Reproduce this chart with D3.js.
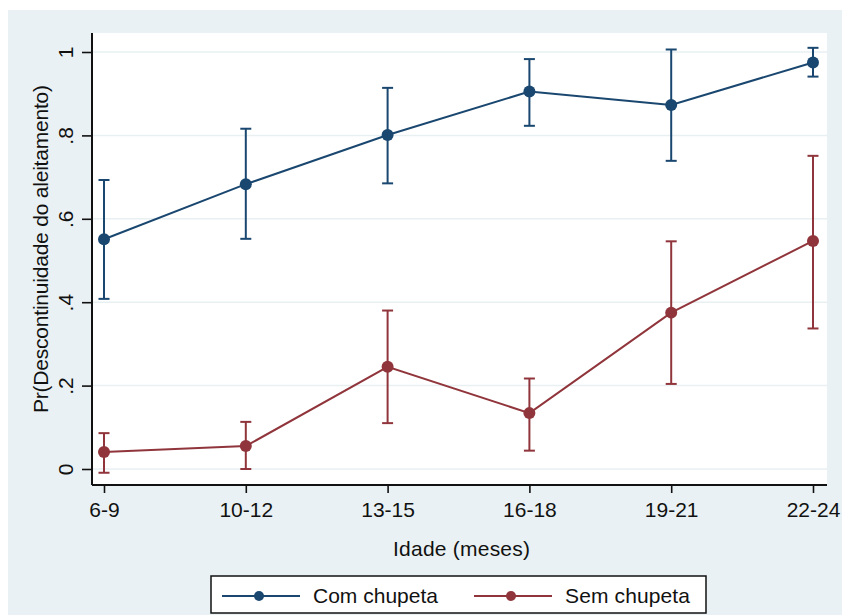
<!DOCTYPE html>
<html>
<head>
<meta charset="utf-8">
<script src="https://cdn.jsdelivr.net/npm/d3@7"></script>
<style>
  body { margin: 0; background: #ffffff; }
  svg text { font-family: "Liberation Sans", Arial, sans-serif; fill: #111; }
</style>
</head>
<body>
<div id="svg"></div>
<script>
var width = 842;
var height = 615;

// data
var categories = ['6-9', '10-12', '13-15', '16-18', '19-21', '22-24'];
var com_mean = [0.551, 0.683, 0.801, 0.905, 0.873, 0.975];
var com_lo   = [0.408, 0.552, 0.685, 0.823, 0.739, 0.941];
var com_hi   = [0.693, 0.816, 0.914, 0.983, 1.006, 1.010];
var sem_mean = [0.041, 0.055, 0.245, 0.134, 0.375, 0.547];
var sem_lo   = [-0.009, 0.000, 0.110, 0.044, 0.204, 0.337];
var sem_hi   = [0.086, 0.113, 0.380, 0.217, 0.546, 0.751];
var y_ticks = [0, 0.2, 0.4, 0.6, 0.8, 1];
var series_names = ['Com chupeta', 'Sem chupeta'];
var series_colors = ['#1a476f', '#90353b'];

var plot = { left: 92, right: 827, top: 33, bottom: 485 };
var font_size = '21px';

var canvas = d3.select('#svg')
	.append('svg')
	.attr('width', width)
	.attr('height', height);

function main()
{
	draw_background();
	var x = d3.scalePoint()
		.domain(categories)
		.range([plot.left + 12, plot.right - 14]);
	var y = d3.scaleLinear()
		.domain([0, 1])
		.range([plot.bottom - 16, plot.top + 19]);

	draw_grid(y);
	draw_series(x, y, com_mean, com_lo, com_hi, series_colors[0]);
	draw_series(x, y, sem_mean, sem_lo, sem_hi, series_colors[1]);
	draw_axes(x, y);
	draw_legend();
}

function draw_background()
{
	canvas.append('rect')
		.attr('x', 8).attr('y', 10)
		.attr('width', width - 8).attr('height', height - 10)
		.attr('fill', '#eaf1f4');
	canvas.append('rect')
		.attr('x', plot.left).attr('y', plot.top)
		.attr('width', plot.right - plot.left).attr('height', plot.bottom - plot.top)
		.attr('fill', '#ffffff');
}

function draw_grid(y)
{
	canvas.append('g')
		.selectAll('line')
		.data(y_ticks)
		.enter().append('line')
			.attr('x1', plot.left).attr('x2', plot.right)
			.attr('y1', (d) => y(d)).attr('y2', (d) => y(d))
			.attr('stroke', '#e8f0f2')
			.attr('stroke-width', 1.5);
}

function draw_series(x, y, mean, lo, hi, color)
{
	var rows = categories.map((c, i) => ({ c: c, m: mean[i], lo: lo[i], hi: hi[i] }));
	var g = canvas.append('g');
	var cap = 5.5;

	// error bars
	var bars = g.selectAll('.bar').data(rows).enter().append('g').attr('class', 'bar');
	bars.append('line')
		.attr('x1', (d) => x(d.c)).attr('x2', (d) => x(d.c))
		.attr('y1', (d) => y(d.lo)).attr('y2', (d) => y(d.hi))
		.attr('stroke', color).attr('stroke-width', 2);
	bars.append('line')
		.attr('x1', (d) => x(d.c) - cap).attr('x2', (d) => x(d.c) + cap)
		.attr('y1', (d) => y(d.lo)).attr('y2', (d) => y(d.lo))
		.attr('stroke', color).attr('stroke-width', 2);
	bars.append('line')
		.attr('x1', (d) => x(d.c) - cap).attr('x2', (d) => x(d.c) + cap)
		.attr('y1', (d) => y(d.hi)).attr('y2', (d) => y(d.hi))
		.attr('stroke', color).attr('stroke-width', 2);

	// connecting line
	var line = d3.line()
		.x((d) => x(d.c))
		.y((d) => y(d.m));
	g.append('path')
		.datum(rows)
		.attr('d', line)
		.attr('fill', 'none')
		.attr('stroke', color)
		.attr('stroke-width', 2);

	g.selectAll('circle').data(rows).enter().append('circle')
		.attr('cx', (d) => x(d.c))
		.attr('cy', (d) => y(d.m))
		.attr('r', 6)
		.attr('fill', color);
}

function draw_axes(x, y)
{
	var x_axis = d3.axisBottom(x).tickSize(8).tickPadding(9);
	var gx = canvas.append('g')
		.attr('transform', 'translate(0,' + plot.bottom + ')')
		.call(x_axis);
	gx.select('.domain')
		.attr('d', 'M' + plot.left + ',0H' + plot.right)
		.attr('stroke', '#111').attr('stroke-width', 2);
	gx.selectAll('.tick line').attr('stroke', '#111').attr('stroke-width', 1.6);
	gx.selectAll('.tick text')
		.style('font-size', font_size)
		.style('font-family', '"Liberation Sans", Arial, sans-serif')
		.attr('fill', '#111');

	var y_axis = d3.axisLeft(y)
		.tickValues(y_ticks)
		.tickSize(10)
		.tickFormat((d) => (d === 0 || d === 1) ? String(d) : d3.format('.1f')(d).replace(/^0/, ''));
	var gy = canvas.append('g')
		.attr('transform', 'translate(' + plot.left + ',0)')
		.call(y_axis);
	gy.select('.domain')
		.attr('d', 'M0,' + plot.top + 'V' + plot.bottom)
		.attr('stroke', '#111').attr('stroke-width', 2);
	gy.selectAll('.tick line').attr('stroke', '#111').attr('stroke-width', 1.6);
	gy.selectAll('.tick text')
		.attr('x', null).attr('dy', null)
		.attr('transform', 'translate(-19,0) rotate(-90)')
		.attr('text-anchor', 'middle')
		.attr('y', 0)
		.style('font-size', font_size)
		.style('font-family', '"Liberation Sans", Arial, sans-serif')
		.attr('fill', '#111');

	canvas.append('text')
		.attr('x', (plot.left + plot.right) / 2 + 2)
		.attr('y', 556)
		.attr('text-anchor', 'middle')
		.style('font-size', font_size)
		.attr('textLength', 137)
		.attr('lengthAdjust', 'spacing')
		.text('Idade (meses)');

	canvas.append('text')
		.attr('transform', 'translate(48,249) rotate(-90)')
		.attr('text-anchor', 'middle')
		.style('font-size', font_size)
		.attr('textLength', 328)
		.attr('lengthAdjust', 'spacing')
		.text('Pr(Descontinuidade do aleitamento)');
}

function draw_legend()
{
	var g = canvas.append('g');
	g.append('rect')
		.attr('x', 211).attr('y', 576)
		.attr('width', 495).attr('height', 37)
		.attr('fill', '#ffffff')
		.attr('stroke', '#111')
		.attr('stroke-width', 1.5);

	var items = g.selectAll('.item')
		.data(series_names)
		.enter().append('g')
			.attr('class', 'item')
			.attr('transform', (d, i) => 'translate(' + (222 + i * 252) + ',596)');
	items.append('line')
		.attr('x1', 0).attr('x2', 78)
		.attr('y1', 0).attr('y2', 0)
		.attr('stroke', (d, i) => series_colors[i])
		.attr('stroke-width', 2);
	items.append('circle')
		.attr('cx', 37).attr('cy', 0).attr('r', 5)
		.attr('fill', (d, i) => series_colors[i]);
	items.append('text')
		.attr('x', 91).attr('y', 7)
		.style('font-size', font_size)
		.attr('textLength', 125)
		.attr('lengthAdjust', 'spacing')
		.text((d) => d);
}

main();
</script>
</body>
</html>
